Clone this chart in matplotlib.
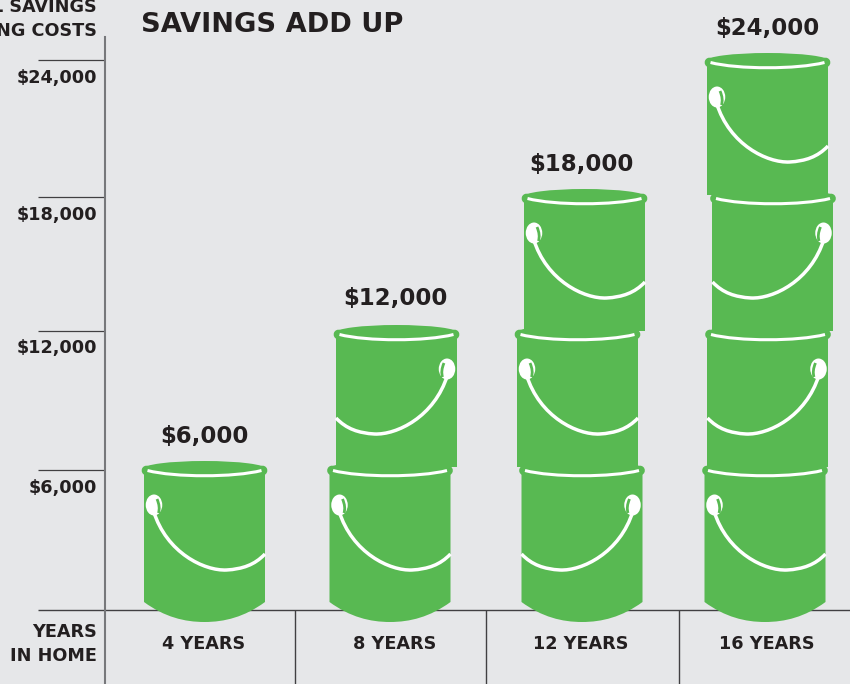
import numpy as np
import matplotlib
matplotlib.use("Agg")
import matplotlib.pyplot as plt
from matplotlib.patches import Ellipse, PathPatch
from matplotlib.path import Path
from matplotlib.transforms import Affine2D

categories = ["4 YEARS", "8 YEARS", "12 YEARS", "16 YEARS"]
savings = [6000, 12000, 18000, 24000]
savings_labels = ["$6,000", "$12,000", "$18,000", "$24,000"]
tick_values = [6000, 12000, 18000, 24000]
tick_labels = ["$6,000", "$12,000", "$18,000", "$24,000"]
bucket_value = 6000

BG = "#E6E7E9"
GREEN = "#58B952"
INK = "#231F20"
AXIS_GREY = "#77787B"
BASE_GREY = "#414042"
FONT = "DejaVu Sans"

# the printed axis is not quite even, so the scale goes through these knots
scale_values = [-3229, 0, 6000, 12000, 18000, 24000, 26618]
scale_px = [684, 610, 470, 331, 197, 60, 0]

# one entry per bucket, bottom to top: centre x and handle side (-1 left, 1 right)
stack_x = [[204.5], [390, 396.5], [582, 577.5, 584.5], [765, 768, 773, 767.5]]
stack_side = [[-1], [-1, 1], [1, -1, -1], [-1, 1, 1, -1]]
rim_lift = [9, 6, 8, 7]
label_x = [204, 395, 581, 767]
label_y = [437, 299, 164, 29]
tick_label_y = [488, 348, 215, 78]
divider_x = [295, 486, 679]
category_x = [204, 395, 581, 767]


def forward(v):
    return -np.interp(v, scale_values, scale_px)


def inverse(p):
    return np.interp(-np.asarray(p), scale_px[::-1], scale_values[::-1])


def y_at(px):
    return float(inverse(-px))


def draw_bucket(ax, x, level, side, bottom):
    # bucket shapes are drawn in pixels from the rim top, y pointing down
    ax_x, ax_y = ax.transData.transform((x, level))
    tf = Affine2D().scale(side * -1, -1).translate(ax_x, ax_y + rim_lift[int(level / bucket_value) - 1])
    hw = 60.5
    if bottom:
        verts = [(-hw, 8), (-hw, 141), (-40, 156), (-20, 161), (0, 161), (20, 161), (40, 156), (hw, 141), (hw, 8), (-hw, 8)]
        codes = [Path.MOVETO, Path.LINETO, Path.CURVE4, Path.CURVE4, Path.CURVE4,
                 Path.CURVE4, Path.CURVE4, Path.CURVE4, Path.LINETO, Path.CLOSEPOLY]
    else:
        verts = [(-hw, 8), (-hw, 142), (hw, 142), (hw, 8), (-hw, 8)]
        codes = [Path.MOVETO, Path.LINETO, Path.LINETO, Path.LINETO, Path.CLOSEPOLY]
    ax.add_patch(PathPatch(Path(verts, codes), fc=GREEN, ec="none", transform=tf, zorder=3))
    ax.add_patch(Ellipse((0, 8), 124, 16, fc=GREEN, ec="none", transform=tf, zorder=3))

    # rim: fat green band with rounded ends, white line on top
    codes4 = [Path.MOVETO, Path.CURVE4, Path.CURVE4, Path.CURVE4]
    band = Path([(-58, 9.5), (-30, 16), (30, 16), (58, 9.5)], codes4)
    line = Path([(-57, 9.5), (-30, 16.5), (30, 16.5), (57, 9.5)], codes4)
    ax.add_patch(PathPatch(band, fc="none", ec=GREEN, lw=7.0, capstyle="round", transform=tf, zorder=3))
    ax.add_patch(PathPatch(line, fc="none", ec="white", lw=2.2, capstyle="butt", transform=tf, zorder=4))

    # handle and its lug
    handle = Path(
        [(-51, 50), (-38, 92), (0, 110), (22, 109), (38, 108), (50, 104), (60.5, 93)],
        [Path.MOVETO, Path.CURVE4, Path.CURVE4, Path.CURVE4, Path.CURVE4, Path.CURVE4, Path.CURVE4],
    )
    ax.add_patch(PathPatch(handle, fc="none", ec="white", lw=2.5, transform=tf, zorder=4))
    ax.add_patch(Ellipse((-50.5, 44), 16.5, 21, fc="white", ec="none", transform=tf, zorder=4))
    curl = Path([(-47.5, 38), (-44, 46), (-46, 52)], [Path.MOVETO, Path.CURVE3, Path.CURVE3])
    ax.add_patch(PathPatch(curl, fc="none", ec=GREEN, lw=2.0, transform=tf, zorder=5))


def main():
    fig = plt.figure(figsize=(8.5, 6.84), dpi=100, facecolor=BG)
    ax = fig.add_axes([0, 0, 1, 1], facecolor=BG)
    ax.set_xlim(0, 850)
    ax.set_yscale("function", functions=(forward, inverse))
    ax.set_ylim(scale_values[0], scale_values[-1])

    for name in ["top", "right", "bottom"]:
        ax.spines[name].set_visible(False)
    ax.spines["left"].set_position(("data", 105))
    ax.spines["left"].set_bounds(scale_values[0], y_at(37))
    ax.spines["left"].set_color(AXIS_GREY)
    ax.spines["left"].set_linewidth(1.5)

    ax.set_yticks(tick_values)
    ax.set_yticks([], minor=True)
    ax.set_xticks([])
    ax.tick_params(axis="y", direction="out", length=48, width=0.9, color=BASE_GREY, labelleft=False)
    ax.hlines(0, 38, 850, color=BASE_GREY, lw=1.0, zorder=2)
    ax.vlines(divider_x, scale_values[0], 0, color=BASE_GREY, lw=1.0, zorder=2)

    for stack, sides in zip(stack_x, stack_side):
        for i, (x, side) in enumerate(zip(stack, sides)):
            draw_bucket(ax, x, (i + 1) * bucket_value, side, i == 0)

    style = dict(family=FONT, weight="bold", color=INK)
    ax.text(141, y_at(25), "SAVINGS ADD UP", fontsize=19.6, ha="left", va="center", **style)
    ax.text(97, y_at(7), "L SAVINGS", fontsize=12.7, ha="right", va="center", **style)
    ax.text(97, y_at(31), "NG COSTS", fontsize=12.7, ha="right", va="center", **style)
    ax.text(97, y_at(632), "YEARS", fontsize=12.7, ha="right", va="center", **style)
    ax.text(97, y_at(656), "IN HOME", fontsize=12.7, ha="right", va="center", **style)

    for lab, py in zip(tick_labels, tick_label_y):
        ax.text(97, y_at(py), lab, fontsize=12.7, ha="right", va="center", **style)
    for x, lab, py in zip(label_x, savings_labels, label_y):
        ax.text(x, y_at(py), lab, fontsize=16.5, ha="center", va="center", **style)
    for x, lab in zip(category_x, categories):
        ax.text(x, y_at(644), lab, fontsize=12.7, ha="center", va="center", **style)

    fig.savefig("out.png", dpi=100, facecolor=BG)


if __name__ == "__main__":
    main()
